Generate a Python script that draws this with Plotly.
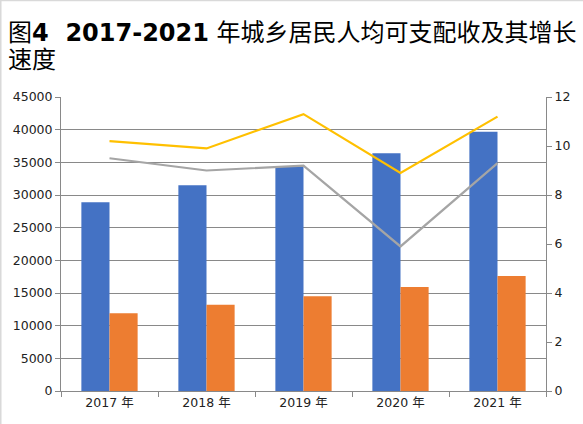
import plotly.graph_objects as go

# data
years = ["2017 年", "2018 年", "2019 年", "2020 年", "2021 年"]
urban_income = [28900, 31500, 34300, 36400, 39700]
rural_income = [11900, 13200, 14500, 15900, 17600]
urban_growth = [10.2, 9.9, 11.3, 8.9, 11.2]
rural_growth = [9.5, 9.0, 9.2, 5.9, 9.3]

FONT = "DejaVu Sans, Noto Sans CJK SC, sans-serif"
AXIS = "#898989"

fig = go.Figure()
fig.add_trace(go.Bar(x=years, y=urban_income, marker=dict(color="#4472c4", line_width=0),
                     name="城镇"))
fig.add_trace(go.Bar(x=years, y=rural_income, marker=dict(color="#ed7d31", line_width=0),
                     name="农村"))
fig.add_trace(go.Scatter(x=years, y=urban_growth, yaxis="y2", mode="lines",
                         line=dict(color="#ffc000", width=2.2), name="城镇增长"))
fig.add_trace(go.Scatter(x=years, y=rural_growth, yaxis="y2", mode="lines",
                         line=dict(color="#a5a5a5", width=2.2), name="农村增长"))

fig.update_layout(
    width=583, height=424,
    margin=dict(l=61, r=37, t=97, b=33),
    paper_bgcolor="white", plot_bgcolor="white",
    font=dict(family=FONT, size=12, color="#222222"),
    showlegend=False,
    barmode="group", bargap=0.42, bargroupgap=0,
    xaxis=dict(showline=True, linecolor=AXIS, linewidth=1, ticks="outside",
               tickson="boundaries", ticklen=5, tickcolor=AXIS,
               tickfont=dict(size=12.5)),
    yaxis=dict(range=[0, 45000], dtick=5000, showgrid=True, gridcolor=AXIS,
               gridwidth=1, showline=True, linecolor=AXIS, ticks="outside",
               ticklen=5, tickcolor=AXIS, separatethousands=False,
               tickformat="d", tickfont=dict(size=12.5), zeroline=False),
    yaxis2=dict(range=[0, 12], dtick=2, overlaying="y", side="right",
                showgrid=False, showline=True, linecolor=AXIS, ticks="outside",
                ticklen=5, tickcolor=AXIS, tickfont=dict(size=12.5),
                zeroline=False),
)

fig.add_annotation(
    text="图<b>4\u00a0\u00a02017-2021</b> 年城乡居民人均可支配收及其增长",
    xref="paper", yref="paper", x=-0.114, y=1.2177, xanchor="left",
    yanchor="middle", showarrow=False, font=dict(size=24, color="#000000"))
fig.add_annotation(
    text="速度", xref="paper", yref="paper", x=-0.114, y=1.1259,
    xanchor="left", yanchor="middle", showarrow=False,
    font=dict(size=24, color="#000000"))

# thin light border on top and left, as in the picture
fig.add_shape(type="line", xref="paper", yref="paper", x0=-0.126, x1=1.08,
              y0=1.329, y1=1.329, line=dict(color="#d9d9d9", width=2))
fig.add_shape(type="line", xref="paper", yref="paper", x0=-0.1247, x1=-0.1247,
              y0=-0.12, y1=1.33, line=dict(color="#d9d9d9", width=2))

fig.write_html("out.html", config={"displayModeBar": False},
               post_script="document.body.style.margin='0';")
